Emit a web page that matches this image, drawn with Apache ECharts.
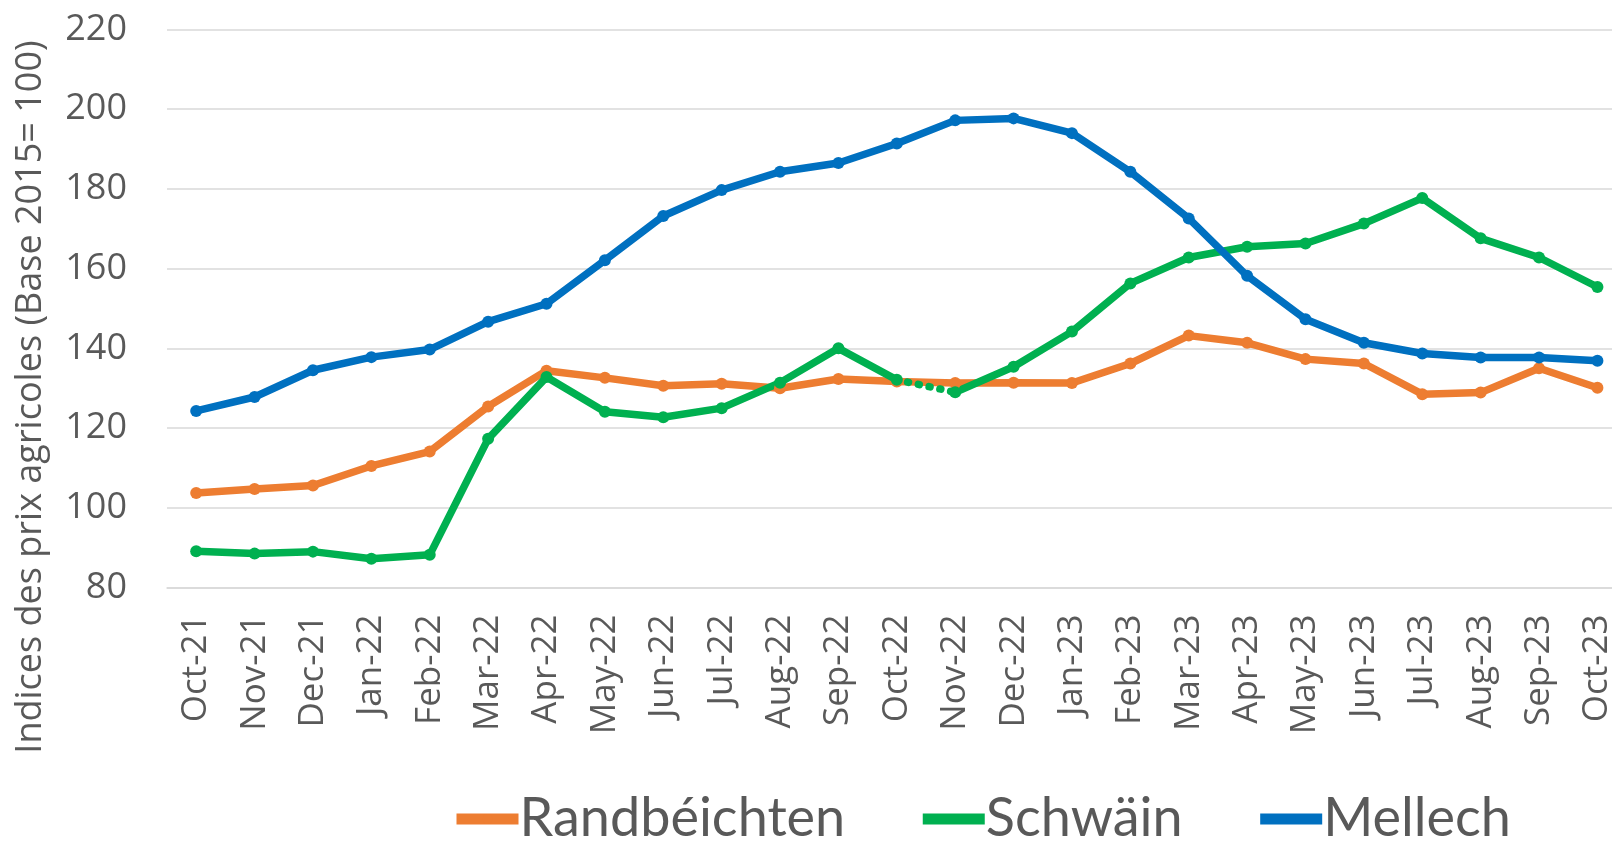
<!DOCTYPE html>
<html>
<head>
<meta charset="utf-8">
<script src="https://cdn.jsdelivr.net/npm/echarts@6/dist/echarts.min.js"></script>
<style>
  html, body { margin: 0; padding: 0; background: #fff; }
  #main { width: 1612px; height: 842px; }
</style>
</head>
<body>
<div id="main"></div>
<script>
    // categories (the last month is cut off on the right like in the source picture)
    var months = ['Oct-21', 'Nov-21', 'Dec-21', 'Jan-22', 'Feb-22', 'Mar-22', 'Apr-22', 'May-22',
        'Jun-22', 'Jul-22', 'Aug-22', 'Sep-22', 'Oct-22', 'Nov-22', 'Dec-22', 'Jan-23', 'Feb-23',
        'Mar-23', 'Apr-23', 'May-23', 'Jun-23', 'Jul-23', 'Aug-23', 'Sep-23', 'Oct-23', 'Nov-23'];

    var randbeichten = [103.7, 104.7, 105.6, 110.5, 114.1, 125.4, 134.4, 132.6, 130.6, 131.1, 130.0, 132.3,
        131.7, 131.3, 131.4, 131.3, 136.2, 143.2, 141.4, 137.3, 136.2, 128.5, 128.9, 135.0, 130.1];
    var schwain = [89.1, 88.5, 89.0, 87.2, 88.2, 117.3, 132.8, 124.1, 122.7, 125.0, 131.4, 140.0,
        132.1, 129.0, 135.4, 144.2, 156.3, 162.8, 165.5, 166.3, 171.3, 177.7, 167.6, 162.8, 155.4];
    var mellech = [124.3, 127.8, 134.5, 137.8, 139.7, 146.7, 151.2, 162.1, 173.2, 179.7, 184.3, 186.5,
        191.4, 197.2, 197.7, 194.0, 184.3, 172.6, 158.2, 147.3, 141.4, 138.7, 137.7, 137.7, 136.9];

    var yTicks = { min: 80, max: 220, step: 20 };
    var dotFrom = 12, dotTo = 13; // Schwäin Oct-22 -> Nov-22 drawn dotted

    var ORANGE = '#ED7D31', GREEN = '#00B050', BLUE = '#0070C0', GREY = '#595959';

    function part(arr, a, b) {
        return arr.map(function (v, i) { return (i >= a && i <= b) ? v : null; });
    }

    function lineSeries(name, color, data, extra) {
        var s = {
            name: name,
            type: 'line',
            data: data,
            symbol: 'circle',
            symbolSize: 12,
            lineStyle: { width: 7.5, color: color },
            itemStyle: { color: color },
            connectNulls: false
        };
        for (var k in extra) s[k] = extra[k];
        return s;
    }

    var chart = echarts.init(document.getElementById('main'));
    chart.setOption({
        animation: false,
        backgroundColor: '#fff',
        // plot runs past the right edge of the canvas (picture is cropped)
        grid: { left: 167, top: 29.5, bottom: 254.5, width: 1518, outerBoundsMode: 'none', containLabel: false },
        legend: {
            data: ['Randbéichten', 'Schwäin', 'Mellech'],
            left: 451,
            top: 792,
            padding: 0,
            itemWidth: 62,
            itemHeight: 12,
            itemGap: 72,
            lineStyle: { width: 11 },
            textStyle: { fontFamily: 'Lato', fontSize: 54, color: GREY, padding: [0, 0, 0, -4] }
        },
        graphic: [{
            type: 'text',
            x: 31,
            y: 397,
            rotation: Math.PI / 2,
            style: {
                text: 'Indices des prix agricoles (Base 2015= 100)',
                font: '36px "Open Sans"',
                fill: GREY,
                align: 'center',
                verticalAlign: 'middle'
            }
        }],
        xAxis: {
            type: 'category',
            data: months,
            boundaryGap: true,
            axisLine: { show: true, lineStyle: { color: '#D9D9D9', width: 1.5 } },
            axisTick: { show: false },
            axisLabel: {
                rotate: 90,
                interval: 0,
                margin: 27,
                fontFamily: 'Open Sans',
                fontSize: 35,
                color: GREY
            }
        },
        yAxis: {
            type: 'value',
            min: yTicks.min,
            max: yTicks.max,
            interval: yTicks.step,
            axisLine: { show: false },
            axisTick: { show: false },
            axisLabel: { margin: 40, fontFamily: 'Open Sans', fontSize: 36, color: GREY },
            splitLine: { lineStyle: { color: '#D9D9D9', width: 1.5 } }
        },
        series: [
            lineSeries('Randbéichten', ORANGE, randbeichten, {}),
            lineSeries('Schwäin', GREEN, part(schwain, 0, dotFrom), {}),
            lineSeries('Schwäin ', GREEN, part(schwain, dotFrom, dotTo), {
                showSymbol: false,
                lineStyle: { width: 7.5, color: GREEN, type: [1, 10], cap: 'round' }
            }),
            lineSeries('Schwäin  ', GREEN, part(schwain, dotTo, schwain.length - 1), {}),
            lineSeries('Mellech', BLUE, mellech, {})
        ]
    });
</script>
</body>
</html>
